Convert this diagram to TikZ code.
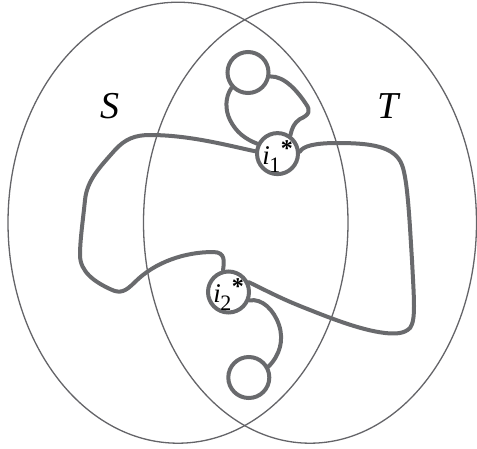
\documentclass[tikz,border=0pt]{standalone}
\usepackage{fontspec}
\setmainfont{Liberation Serif}
\definecolor{thickgray}{RGB}{105,106,109}
\definecolor{thingray}{RGB}{100,100,104}
\tikzset{
  ring/.style={circle,draw=thickgray,line width=4pt,minimum size=41pt,inner sep=0pt,fill=white},
  strand/.style={draw=thickgray,line width=4pt,line cap=round},
  setline/.style={draw=thingray,line width=1.3pt},
  setlabel/.style={font=\fontsize{38}{38}\selectfont\itshape,anchor=base,inner sep=0pt},
  starlabel/.style={text height=21pt,text depth=0pt}
}
\newcommand{\starlab}[1]{\fontsize{27}{27}\selectfont\textit{i}\kern-0.5pt\raisebox{-8pt}{\fontsize{22}{22}\selectfont #1}\kern0.5pt\raisebox{8pt}{\fontsize{24}{24}\selectfont\bfseries *}}
\begin{document}
\begin{tikzpicture}[x=1pt,y=-1pt]
\useasboundingbox (0,0) rectangle (477,448);
\fill[white] (0,0) rectangle (477,448);
% sets
\draw[setline] (178,222.7) ellipse [x radius=170, y radius=220.5];
\draw[setline] (310,222.7) ellipse [x radius=166.5, y radius=220.5];
\node[setlabel] (S) at (109.5,118) {S};
\node[setlabel] (T) at (388,118) {T};
% nodes
\node[ring] (c1) at (248,72.5) {};
\node[ring,starlabel] (i1) at (277.5,153.6) {\starlab{1}};
\node[ring,starlabel] (i2) at (228.5,292) {\starlab{2}};
\node[ring] (c2) at (248.8,377.5) {};
% strands
\draw[strand] (c1.-10) .. controls (285,76) and (298,92) .. (306,104)
  .. controls (311,111) and (309,115) .. (300,119)
  .. controls (294,123) and (292,128) .. (i1.55);
\draw[strand] (c1.-137) .. controls (225,97) and (225,110) .. (230,120)
  .. controls (236,132) and (245,139) .. (i1.154);
\draw[strand] (i1.174) .. controls (230,146) and (190,135) .. (150,135)
  .. controls (135,135) and (125,139) .. (115,150)
  .. controls (100,167) and (87,180) .. (85,200)
  .. controls (83,220) and (80,240) .. (80,255)
  .. controls (80,272) and (95,282) .. (110,289)
  .. controls (120,294) and (125,292) .. (135,282)
  .. controls (155,262) and (185,252) .. (213,252)
  .. controls (226,252) and (224,262) .. (i2.104);
\draw[strand] (i1.5) .. controls (303,146) and (315,143) .. (337,143)
  .. controls (370,143) and (395,146) .. (402,165)
  .. controls (408,180) and (410,230) .. (412,260)
  .. controls (414,300) and (416,320) .. (410,328)
  .. controls (404,334) and (395,334) .. (385,333)
  .. controls (360,330) and (330,318) .. (300,306)
  .. controls (280,298) and (265,290) .. (i2.26);
\draw[strand] (i2.-22) .. controls (262,298) and (274,310) .. (279,325)
  .. controls (284,340) and (280,355) .. (c2.29);
\end{tikzpicture}
\end{document}
